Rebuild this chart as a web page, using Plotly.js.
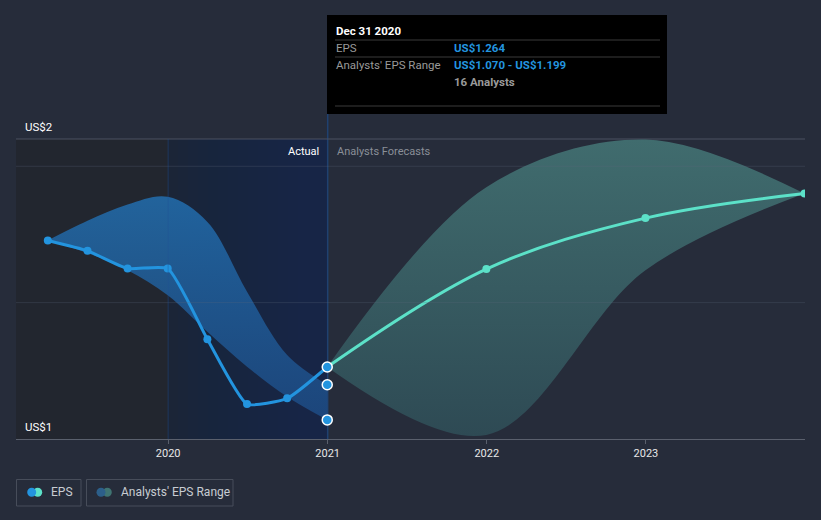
<!DOCTYPE html>
<html>
<head>
<meta charset="utf-8">
<script src="https://cdn.plot.ly/plotly-3.0.1.min.js"></script>
<style>
  html, body { margin: 0; padding: 0; background: #262c3a; }
  #chart { width: 821px; height: 520px; }
</style>
</head>
<body>
<div id="chart"></div>
<script>
// ---- Data ----
const actualDates = ['2019-03-31','2019-06-30','2019-09-30','2019-12-31','2020-03-31','2020-06-30','2020-09-30','2020-12-31'];
const epsActual = [1.728, 1.690, 1.625, 1.625, 1.366, 1.128, 1.149, 1.264];
const pastRangeLow = [1.728, 1.682, 1.619, 1.527, 1.393, 1.265, 1.155, 1.070];
const pastRangeHigh = [1.728, 1.800, 1.860, 1.888, 1.796, 1.540, 1.308, 1.199];

const forecastDates = ['2020-12-31','2021-12-31','2022-12-31','2023-12-31'];
const epsForecast = [1.264, 1.623, 1.810, 1.900];
const forecastLow = [1.264, 1.015, 1.619, 1.900];
const forecastHigh = [1.264, 1.923, 2.098, 1.900];

const hoverDate = '2020-12-31';
const hoverValues = [1.264, 1.199, 1.070];

const gridVals = [1.5, 2];
const yLabels = ['US$1', 'US$2'];
const xTickVals = ['2020-01-01','2021-01-01','2022-01-01','2023-01-01'];
const xTickText = ['2020','2021','2022','2023'];

const tooltipTitle = 'Dec 31 2020';
const tooltipEps = 'US$1.264';
const tooltipRange = 'US$1.070 - US$1.199';
const tooltipAnalysts = '16 Analysts';

// ---- Pixel helpers (plot area: x 16..805, y 139..439) ----
const PL = 16, PR = 805, PT = 139, PB = 439;
const px = X => (X - PL) / (PR - PL);
const py = Y => (PB - Y) / (PB - PT);

const FONT = 'Roboto, "Open Sans", sans-serif';

const traces = [
  // past range band
  { x: actualDates, y: pastRangeLow, type: 'scatter', mode: 'lines',
    line: { width: 0, shape: 'spline', color: 'rgba(0,0,0,0)' }, hoverinfo: 'skip', showlegend: false },
  { x: actualDates, y: pastRangeHigh, type: 'scatter', mode: 'lines', fill: 'tonexty',
    line: { width: 0, shape: 'spline', color: 'rgba(0,0,0,0)' },
    fillcolor: 'rgba(35,118,190,0.55)',
    fillgradient: { type: 'vertical', colorscale: [[0, 'rgba(30,80,140,0.75)'], [1, 'rgba(34,110,175,0.85)']] },
    hoverinfo: 'skip', showlegend: false },
  // forecast range band
  { x: forecastDates, y: forecastLow, type: 'scatter', mode: 'lines',
    line: { width: 0, shape: 'spline', color: 'rgba(0,0,0,0)' }, hoverinfo: 'skip', showlegend: false },
  { x: forecastDates, y: forecastHigh, type: 'scatter', mode: 'lines', fill: 'tonexty',
    line: { width: 0, shape: 'spline', color: 'rgba(0,0,0,0)' },
    fillcolor: 'rgba(80,150,145,0.45)',
    fillgradient: { type: 'vertical', colorscale: [[0, 'rgba(46,74,84,1)'], [1, 'rgba(64,108,110,1)']] },
    hoverinfo: 'skip', showlegend: false },
  // EPS actual
  { x: actualDates, y: epsActual, type: 'scatter', mode: 'lines+markers',
    line: { color: '#2394df', width: 3, shape: 'spline', smoothing: 0.5 },
    marker: { color: '#2394df', size: 8 }, hoverinfo: 'skip', showlegend: false },
  // EPS forecast
  { x: forecastDates, y: epsForecast, type: 'scatter', mode: 'lines+markers',
    line: { color: '#5ce1c8', width: 3, shape: 'spline' },
    marker: { color: '#5ce1c8', size: 8 }, hoverinfo: 'skip', showlegend: false },
  // hovered points
  { x: hoverValues.map(() => hoverDate), y: hoverValues, type: 'scatter', mode: 'markers',
    marker: { color: '#2394df', size: 10, line: { color: '#ffffff', width: 1.5 } },
    hoverinfo: 'skip', showlegend: false, cliponaxis: false }
];

const shapes = [
  // darker region before 2020
  { type: 'rect', xref: 'paper', yref: 'paper', x0: 0, x1: px(168), y0: 0, y1: 1,
    fillcolor: '#22262f', line: { width: 0 }, layer: 'below' },
  // "Actual" highlighted region base
  { type: 'rect', xref: 'paper', yref: 'paper', x0: px(168), x1: px(328), y0: 0, y1: 1,
    fillcolor: '#1b2537', line: { width: 0 }, layer: 'below' }
];
// smooth horizontal gradient made of overlapping stripes on whole pixels
const STRIPES = 16;
for (let i = 1; i < STRIPES; i++) {
  shapes.push({ type: 'rect', xref: 'paper', yref: 'paper',
    x0: px(168 + i * 10), x1: px(328), y0: 0, y1: 1,
    fillcolor: 'rgba(21,42,80,0.085)', line: { width: 0 }, layer: 'below' });
}
shapes.push(
  // gridlines (drawn above bands, translucent)
  ...gridVals.map(v => ({ type: 'line', xref: 'paper', yref: 'y', x0: 0, x1: 1, y0: v, y1: v,
    line: { color: 'rgba(95,105,125,0.28)', width: 1 } })),
  // vertical lines
  { type: 'line', xref: 'x', yref: 'paper', x0: '2020-01-01', x1: '2020-01-01', y0: 0, y1: 1,
    line: { color: 'rgba(35,80,150,0.4)', width: 1 } },
  { type: 'line', xref: 'x', yref: 'paper', x0: '2021-01-01', x1: '2021-01-01', y0: 0, y1: py(114),
    line: { color: '#1f4170', width: 1.5 }, layer: 'below' },
  // top border line
  { type: 'line', xref: 'paper', yref: 'paper', x0: 0, x1: 1, y0: 1, y1: 1,
    line: { color: '#4a5060', width: 1 }, layer: 'below' },
  // tooltip box
  { type: 'rect', xref: 'paper', yref: 'paper', x0: px(327), x1: px(667), y0: py(114), y1: py(15),
    fillcolor: '#000000', line: { width: 0 } },
  { type: 'line', xref: 'paper', yref: 'paper', x0: px(335), x1: px(660), y0: py(40), y1: py(40),
    line: { color: '#3a3a3a', width: 1 } },
  { type: 'line', xref: 'paper', yref: 'paper', x0: px(335), x1: px(660), y0: py(57), y1: py(57),
    line: { color: '#3a3a3a', width: 1 } },
  { type: 'line', xref: 'paper', yref: 'paper', x0: px(335), x1: px(660), y0: py(106), y1: py(106),
    line: { color: '#3a3a3a', width: 1 } },
  // legend boxes
  { type: 'rect', xref: 'paper', yref: 'paper', x0: px(16.5), x1: px(81), y0: py(506), y1: py(479.5),
    fillcolor: 'rgba(0,0,0,0)', line: { color: '#474d5a', width: 1 } },
  { type: 'rect', xref: 'paper', yref: 'paper', x0: px(86.5), x1: px(233), y0: py(506), y1: py(479.5),
    fillcolor: 'rgba(0,0,0,0)', line: { color: '#474d5a', width: 1 } },
  // legend icons
  { type: 'circle', xref: 'paper', yref: 'paper', xsizemode: 'pixel', ysizemode: 'pixel',
    xanchor: px(37.7), yanchor: py(492.3), x0: -4.5, x1: 4.5, y0: -4.5, y1: 4.5,
    fillcolor: '#5ce1c8', line: { width: 0 } },
  { type: 'circle', xref: 'paper', yref: 'paper', xsizemode: 'pixel', ysizemode: 'pixel',
    xanchor: px(31.7), yanchor: py(492.3), x0: -4.5, x1: 4.5, y0: -4.5, y1: 4.5,
    fillcolor: '#2394df', line: { width: 0 } },
  { type: 'circle', xref: 'paper', yref: 'paper', xsizemode: 'pixel', ysizemode: 'pixel',
    xanchor: px(107.3), yanchor: py(492.3), x0: -4.5, x1: 4.5, y0: -4.5, y1: 4.5,
    fillcolor: '#3f7472', line: { width: 0 } },
  { type: 'circle', xref: 'paper', yref: 'paper', xsizemode: 'pixel', ysizemode: 'pixel',
    xanchor: px(101), yanchor: py(492.3), x0: -4.5, x1: 4.5, y0: -4.5, y1: 4.5,
    fillcolor: '#2c5f8a', line: { width: 0 } }
);

const ann = (text, X, Y, opts) => Object.assign({
  text, xref: 'paper', yref: 'paper', x: px(X), y: py(Y), xanchor: 'left', yanchor: 'middle',
  showarrow: false, borderpad: 0, font: { family: FONT, size: 11, color: '#ffffff' }
}, opts || {});

const annotations = [
  ann(yLabels[1], 24, 126.7, { font: { family: FONT, size: 11.5, color: '#ffffff' } }),
  ann(yLabels[0], 24, 426.7, { font: { family: FONT, size: 11.5, color: '#ffffff' } }),
  ann('Actual', 320, 151, { xanchor: 'right', font: { family: FONT, size: 11, color: '#ffffff' } }),
  ann('Analysts Forecasts', 336, 151, { font: { family: FONT, size: 11, color: '#8a8f98' } }),
  ann('<b>' + tooltipTitle + '</b>', 335, 31, { font: { family: FONT, size: 11.5, color: '#ffffff' } }),
  ann('EPS', 335, 48.5, { font: { family: FONT, size: 11.5, color: '#9a9a9a' } }),
  ann('<b>' + tooltipEps + '</b>', 453, 48.5, { font: { family: FONT, size: 11.5, color: '#2394df' } }),
  ann("Analysts' EPS Range", 335, 65.5, { font: { family: FONT, size: 11.5, color: '#9a9a9a' } }),
  ann('<b>' + tooltipRange + '</b>', 453, 65.5, { font: { family: FONT, size: 11.5, color: '#2394df' } }),
  ann('<b>' + tooltipAnalysts + '</b>', 453, 81.5, { font: { family: FONT, size: 11.5, color: '#9a9a9a' } }),
  ann('EPS', 50, 492.3, { font: { family: FONT, size: 12, color: '#c8ccd2' } }),
  ann("Analysts' EPS Range", 120, 492.3, { font: { family: FONT, size: 12, color: '#c8ccd2' } })
];

const layout = {
  width: 821, height: 520,
  margin: { l: PL, r: 821 - PR, t: PT, b: 520 - PB, pad: 0 },
  paper_bgcolor: '#262c3a', plot_bgcolor: '#262c3a',
  font: { family: FONT, size: 11, color: '#ffffff' },
  showlegend: false,
  hovermode: false,
  xaxis: {
    type: 'date', range: ['2019-01-17', '2024-01-01'],
    tickvals: xTickVals, ticktext: xTickText,
    showgrid: false, zeroline: false,
    showline: true, linecolor: '#5a606d', linewidth: 1,
    ticks: 'outside', ticklen: 4, tickcolor: '#5a606d', tickwidth: 1,
    tickfont: { family: FONT, size: 11, color: '#e8e8e8' },
    fixedrange: true
  },
  yaxis: {
    range: [1, 2.1], showticklabels: false,
    showgrid: false, zeroline: false, showline: false,
    fixedrange: true
  },
  shapes, annotations
};

Plotly.newPlot('chart', traces, layout, { displayModeBar: false, staticPlot: true });
</script>
</body>
</html>
